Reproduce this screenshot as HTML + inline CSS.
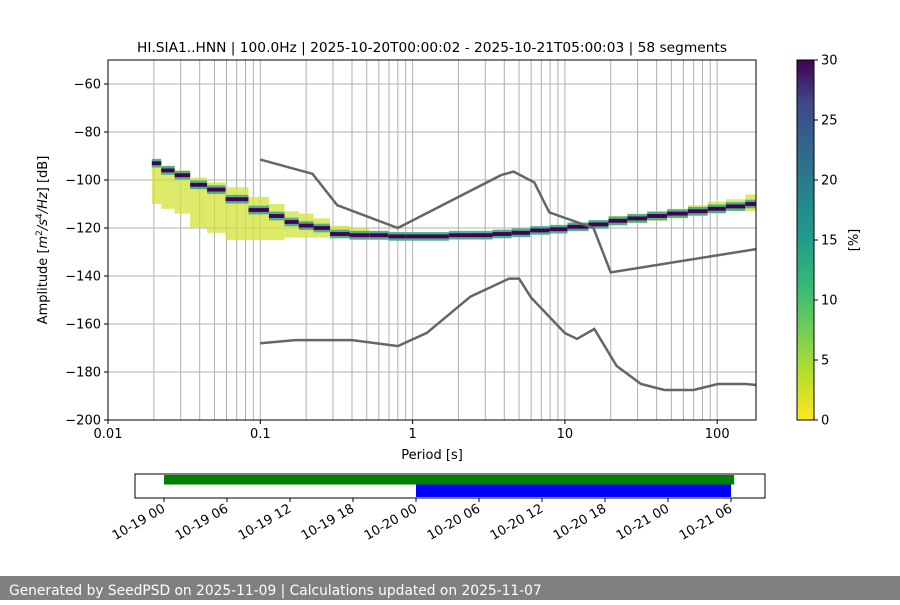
<!DOCTYPE html>
<html><head><meta charset="utf-8"><style>
body{margin:0;background:#fff;font-family:"Liberation Sans","DejaVu Sans",sans-serif}
svg text{font-family:"DejaVu Sans","Liberation Sans",sans-serif}
</style></head><body>
<svg id="c" width="900" height="600" xmlns="http://www.w3.org/2000/svg">
<defs>
<linearGradient id="vir" x1="0" y1="1" x2="0" y2="0">
<stop offset="0" stop-color="#fde725"/><stop offset="0.13" stop-color="#b5de2b"/><stop offset="0.25" stop-color="#6ece58"/><stop offset="0.38" stop-color="#35b779"/><stop offset="0.5" stop-color="#1f9e89"/><stop offset="0.63" stop-color="#26828e"/><stop offset="0.75" stop-color="#31688e"/><stop offset="0.88" stop-color="#3e4989"/><stop offset="1" stop-color="#440154"/>
</linearGradient>
</defs>
<g id="grid"></g>
<g id="heat"></g>
<g id="models"></g>
<g id="axes"></g>
<g id="tl"></g>
<rect x="0" y="576" width="900" height="24" fill="#808080"/>
<text x="9" y="595" fill="#fff" font-size="13.8">Generated by SeedPSD on 2025-11-09 | Calculations updated on 2025-11-07</text>
</svg>
<script>
const periods=[0.02,0.025,0.03,0.04,0.05,0.07,0.1,0.13,0.16,0.2,0.25,0.33,0.45,0.6,0.8,1,1.5,2,2.8,4,5,7,9,12,17,22,30,40,55,75,100,130,180];
const modeDb=[-93,-96,-98,-102,-104,-108,-112.5,-115,-117.5,-119,-120,-122.5,-123,-123,-123.5,-123.5,-123.5,-123,-123,-122.5,-122,-121,-120.5,-119.5,-118.5,-117,-116,-115,-114,-113,-112,-111,-110];
const upperDb=[-92,-94,-96,-99,-101,-103,-107,-110,-113,-114,-116,-119,-120,-121.5,-122,-122,-122,-122,-122,-121,-120.5,-120,-119,-118,-117,-115,-114,-113,-112,-110.5,-109,-108,-106];
const lowerDb=[-110,-112,-114,-120,-122,-125,-125,-125,-124,-124,-124,-124,-125,-125,-125,-125,-125,-124.5,-124.5,-124,-123.5,-122.5,-122,-121,-120,-119,-118,-117,-116,-115,-114,-113,-113];
const nhnmP=[0.1,0.22,0.32,0.8,3.8,4.6,6.3,7.9,15.4,20,180];
const nhnmDb=[-91.5,-97.4,-110.5,-120,-98,-96.5,-101,-113.5,-120,-138.5,-128.8];
const nlnmP=[0.1,0.17,0.4,0.8,1.24,2.4,4.3,5,6,10,12,15.6,21.9,31.6,45,70,101,154,180];
const nlnmDb=[-168,-166.7,-166.7,-169.2,-163.7,-148.6,-141.1,-141.1,-149,-163.8,-166.2,-162.1,-177.5,-185,-187.5,-187.5,-185,-185,-185.4];
const yTicks=[-60,-80,-100,-120,-140,-160,-180,-200];
const xTicks=[0.01,0.1,1,10,100];
const xTickLabels=["0.01","0.1","1","10","100"];
const cbTicks=[0,5,10,15,20,25,30];
const tlLabels=["10-19 00","10-19 06","10-19 12","10-19 18","10-20 00","10-20 06","10-20 12","10-20 18","10-21 00","10-21 06"];
const greenSpan=[0,54.3];
const blueSpan=[24,54];

const NS="http://www.w3.org/2000/svg";
const L=108,R=756,T=60,B=420;
const X=p=>L+(Math.log10(p)+2)*152.3;
const Y=d=>T+(-50-d)*2.4;
function mk(tag,attrs,parent,txt){const e=document.createElementNS(NS,tag);for(const k in attrs)e.setAttribute(k,attrs[k]);if(txt!==undefined)e.textContent=txt;parent.appendChild(e);return e;}
const grid=document.getElementById('grid'),heat=document.getElementById('heat'),models=document.getElementById('models'),axes=document.getElementById('axes'),tl=document.getElementById('tl');
mk('rect',{x:L,y:T,width:R-L,height:B-T,fill:'#fff'},grid);
for(let d=-2;d<=2;d++){for(let m=1;m<=9;m++){const p=m*Math.pow(10,d);if(p<0.02&&m!==1)continue;const x=X(p);if(x>R)continue;
const g=mk('line',{x1:x,x2:x,y1:T,y2:B,stroke:'#b0b0b0','stroke-width':1},grid);

}}
yTicks.forEach(v=>{const g=mk('line',{x1:L,x2:R,y1:Y(v),y2:Y(v),stroke:'#b0b0b0','stroke-width':1},grid);

});
for(let i=0;i<periods.length;i++){
 const x0=i===0?X(periods[0])-2:(X(periods[i-1])+X(periods[i]))/2;
 const x1=i===periods.length-1?R:(X(periods[i])+X(periods[i+1]))/2;
 const w=x1-x0;
 const b=mk('rect',{x:x0,y:Y(upperDb[i]),width:w,height:Y(lowerDb[i])-Y(upperDb[i]),fill:'#d2e236',opacity:0.75},heat);
 
 
 const t=mk('rect',{x:x0,y:Y(modeDb[i]+1.8),width:w,height:3.6*2.4,fill:'#35a58a',opacity:0.85},heat);
 
 
 const m=mk('rect',{x:x0,y:Y(modeDb[i]+0.8),width:w,height:1.6*2.4,fill:'#440154'},heat);
 
 
}
function line(ps,ds,name){const pts=ps.map((p,i)=>X(p).toFixed(1)+','+Y(ds[i]).toFixed(1)).join(' ');
const e=mk('polyline',{points:pts,fill:'none',stroke:'#666','stroke-width':2.5},models);

}
line(nhnmP,nhnmDb,'nhnm-line');line(nlnmP,nlnmDb,'nlnm-line');
const fr=mk('rect',{x:L,y:T,width:R-L,height:B-T,fill:'none',stroke:'#000','stroke-width':1},axes);


yTicks.forEach(v=>{mk('line',{x1:L-4,x2:L,y1:Y(v),y2:Y(v),stroke:'#000'},axes);
const t=mk('text',{x:L-7,y:Y(v)+4.5,'text-anchor':'end','font-size':13},axes,'\u2212'+Math.abs(v));

});
xTicks.forEach((v,i)=>{mk('line',{x1:X(v),x2:X(v),y1:B,y2:B+4,stroke:'#000'},axes);
const t=mk('text',{x:X(v),y:B+18,'text-anchor':'middle','font-size':13},axes,xTickLabels[i]);

});
let t=mk('text',{x:432,y:52,'text-anchor':'middle','font-size':13.6,textLength:590,lengthAdjust:'spacingAndGlyphs'},axes,'HI.SIA1..HNN | 100.0Hz | 2025-10-20T00:00:02 - 2025-10-21T05:00:03 | 58 segments');


t=mk('text',{x:432,y:459,'text-anchor':'middle','font-size':13},axes,'Period [s]');


t=mk('text',{x:0,y:0,'text-anchor':'middle','font-size':13,transform:'translate(47,240) rotate(-90)'},axes);
t.innerHTML='Amplitude [<tspan font-style="italic">m</tspan><tspan dy="-5" font-size="9">2</tspan><tspan dy="5" font-style="italic">/s</tspan><tspan dy="-5" font-size="9">4</tspan><tspan dy="5" font-style="italic">/Hz</tspan>] [dB]';


const cb=mk('rect',{x:797,y:60,width:17,height:360,fill:'url(#vir)',stroke:'#000','stroke-width':1},axes);


cbTicks.forEach(v=>{const y=420-v*12;mk('line',{x1:814,x2:818,y1:y,y2:y,stroke:'#000'},axes);
const tt=mk('text',{x:821,y:y+4.5,'font-size':13},axes,String(v));

});
t=mk('text',{x:0,y:0,'text-anchor':'middle','font-size':13,transform:'translate(858,240) rotate(-90)'},axes,'[%]');


const TX=h=>164+h*63/6;
const box=mk('rect',{x:135,y:474,width:630,height:24,fill:'#fff',stroke:'#000','stroke-width':1},tl);


const gb=mk('rect',{x:TX(greenSpan[0]),y:475,width:TX(greenSpan[1])-TX(greenSpan[0]),height:9.5,fill:'#008000'},tl);


const bb=mk('rect',{x:TX(blueSpan[0]),y:484.5,width:TX(blueSpan[1])-TX(blueSpan[0]),height:12.5,fill:'#0000ff'},tl);


tlLabels.forEach((s,i)=>{const x=TX(i*6);mk('line',{x1:x,x2:x,y1:498,y2:502,stroke:'#000'},tl);
const tt=mk('text',{x:x+2,y:511,'text-anchor':'end','font-size':13,transform:`rotate(-30 ${x+2} 511)`},tl,s);

});
</script>
</body></html>
